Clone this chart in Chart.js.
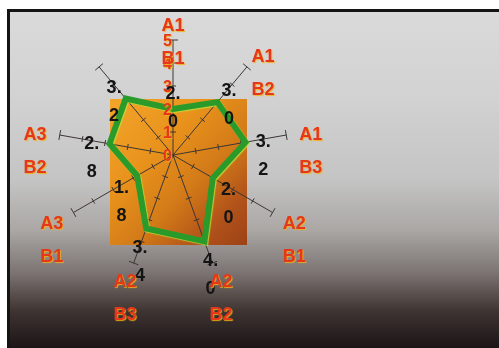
<!DOCTYPE html>
<html lang="en">
<head>
    <meta charset="UTF-8">
    <title>Radar A/B</title>
    <script src="https://cdn.jsdelivr.net/npm/chart.js"></script>
    <style>
        html, body { margin: 0; padding: 0; background: #fff; }
        #stage { position: relative; width: 499px; height: 348px; overflow: hidden; background: #fff; }
        /* slide with dark bottom */
        #slide {
            position: absolute; left: 7px; top: 9px; right: 0; bottom: 0;
            border-top: 3px solid #141414; border-left: 3px solid #141414;
            background: linear-gradient(180deg, #dadada 0%, #d2d2d2 25%, #c4c4c4 50%, #aaa7a5 65%, #7a7270 78%, #3e3432 89%, #1c1416 100%);
        }
        /* orange picture behind the radar */
        #photo {
            position: absolute; left: 110px; top: 99px; width: 137px; height: 146px;
            background: linear-gradient(135deg, #f3a52a 0%, #e8921c 35%, #d27a18 60%, #b1521a 82%, #9c4216 100%);
        }
        #chartBox { position: absolute; left: 0; top: 0; width: 499px; height: 348px; }
    </style>
</head>
<body>
    <div id="stage">
        <div id="slide"></div>
        <div id="photo"></div>
        <div id="chartBox"><canvas id="radar"></canvas></div>
    </div>

    <script>
        // Kategorien (zweizeilig), Werte und Skalenwerte
        const categories = [['A1', 'B1'], ['A1', 'B2'], ['A1', 'B3'], ['A2', 'B1'], ['A2', 'B2'], ['A2', 'B3'], ['A3', 'B1'], ['A3', 'B2'], ['', '']];
        const values = [2.0, 3.0, 3.2, 2.0, 4.0, 3.4, 1.8, 2.8, 3.2];
        const tickValues = [0, 1, 2, 3, 4, 5];

        const RED = '#e5371a';
        const GLOW = 'rgba(240, 175, 25, 0.9)';

        function redText(ctx) {
            ctx.fillStyle = RED;
            ctx.shadowColor = GLOW;
            ctx.shadowOffsetX = 1;
            ctx.shadowOffsetY = 1;
            ctx.shadowBlur = 1;
        }

        function plain(ctx) {
            ctx.shadowColor = 'transparent';
            ctx.shadowOffsetX = 0;
            ctx.shadowOffsetY = 0;
            ctx.shadowBlur = 0;
        }

        // Achsen-Striche, Skalenzahlen, Wertebeschriftung und Kategorien
        const radarDecor = {
            id: 'radarDecor',
            beforeDatasetsDraw(chart) {
                const ctx = chart.ctx;
                const r = chart.scales.r;
                ctx.save();
                ctx.strokeStyle = '#3c3634';
                ctx.lineWidth = 1;
                categories.forEach((c, i) => {
                    const a = r.getIndexAngle(i) - Math.PI / 2;
                    const nx = -Math.sin(a), ny = Math.cos(a);
                    tickValues.slice(1).forEach(v => {
                        const p = r.getPointPositionForValue(i, v);
                        const len = v === tickValues[tickValues.length - 1] ? 5 : 3;
                        ctx.beginPath();
                        ctx.moveTo(p.x - nx * len, p.y - ny * len);
                        ctx.lineTo(p.x + nx * len, p.y + ny * len);
                        ctx.stroke();
                    });
                });
                ctx.restore();
            },
            // heller Rand an der gruenen Linie
            beforeDatasetDraw(chart) {
                const ctx = chart.ctx;
                ctx.save();
                ctx.shadowColor = 'rgba(190, 225, 60, 0.85)';
                ctx.shadowOffsetX = 1;
                ctx.shadowOffsetY = 1;
                ctx.shadowBlur = 1;
            },
            afterDatasetDraw(chart) {
                chart.ctx.restore();
            },
            afterDraw(chart) {
                const ctx = chart.ctx;
                const r = chart.scales.r;
                ctx.save();

                // Skala entlang der ersten Achse
                ctx.font = 'bold 16px "Liberation Sans", Arial, sans-serif';
                ctx.textAlign = 'right';
                ctx.textBaseline = 'middle';
                redText(ctx);
                tickValues.forEach(v => {
                    const p = r.getPointPositionForValue(0, v);
                    ctx.fillText(String(v), p.x - 1, p.y + 2);
                });

                // Werte an den Eckpunkten, umgebrochen
                plain(ctx);
                ctx.fillStyle = '#141414';
                ctx.font = 'bold 18px "Liberation Sans", Arial, sans-serif';
                ctx.textAlign = 'center';
                values.forEach((v, i) => {
                    const p = r.getPointPosition(i, r.getDistanceFromCenterForValue(v) + 18);
                    const parts = v.toFixed(1).split('.');
                    ctx.fillText(parts[0] + '.', p.x, p.y + 3);
                    ctx.fillText(parts[1], p.x, p.y + 31);
                });

                // Kategorien
                ctx.font = 'bold 18px "Liberation Sans", Arial, sans-serif';
                redText(ctx);
                categories.forEach((lines, i) => {
                    const px = r.getPointPosition(i, r.drawingArea + 25).x;
                    const py = r.getPointPosition(i, r.drawingArea + 17).y;
                    lines.forEach((t, k) => ctx.fillText(t, px, py + 3 + k * 33));
                });
                ctx.restore();
            }
        };

        new Chart(document.getElementById('radar'), {
            type: 'radar',
            data: {
                labels: categories,
                datasets: [{
                    data: values,
                    borderColor: '#2a9b2a',
                    borderWidth: 6,
                    borderJoinStyle: 'miter',
                    backgroundColor: 'transparent',
                    fill: false,
                    pointRadius: 0,
                    tension: 0
                }]
            },
            options: {
                responsive: true,
                maintainAspectRatio: false,
                animation: false,
                events: [],
                layout: { padding: { left: 58, top: 40, right: 211, bottom: 78 } },
                plugins: {
                    legend: { display: false },
                    tooltip: { enabled: false }
                },
                scales: {
                    r: {
                        min: 0,
                        max: 5,
                        ticks: { display: false, stepSize: 1 },
                        grid: { display: false },
                        angleLines: { display: true, color: '#3c3634', lineWidth: 1 },
                        pointLabels: { display: false }
                    }
                }
            },
            plugins: [radarDecor]
        });
    </script>
</body>
</html>
